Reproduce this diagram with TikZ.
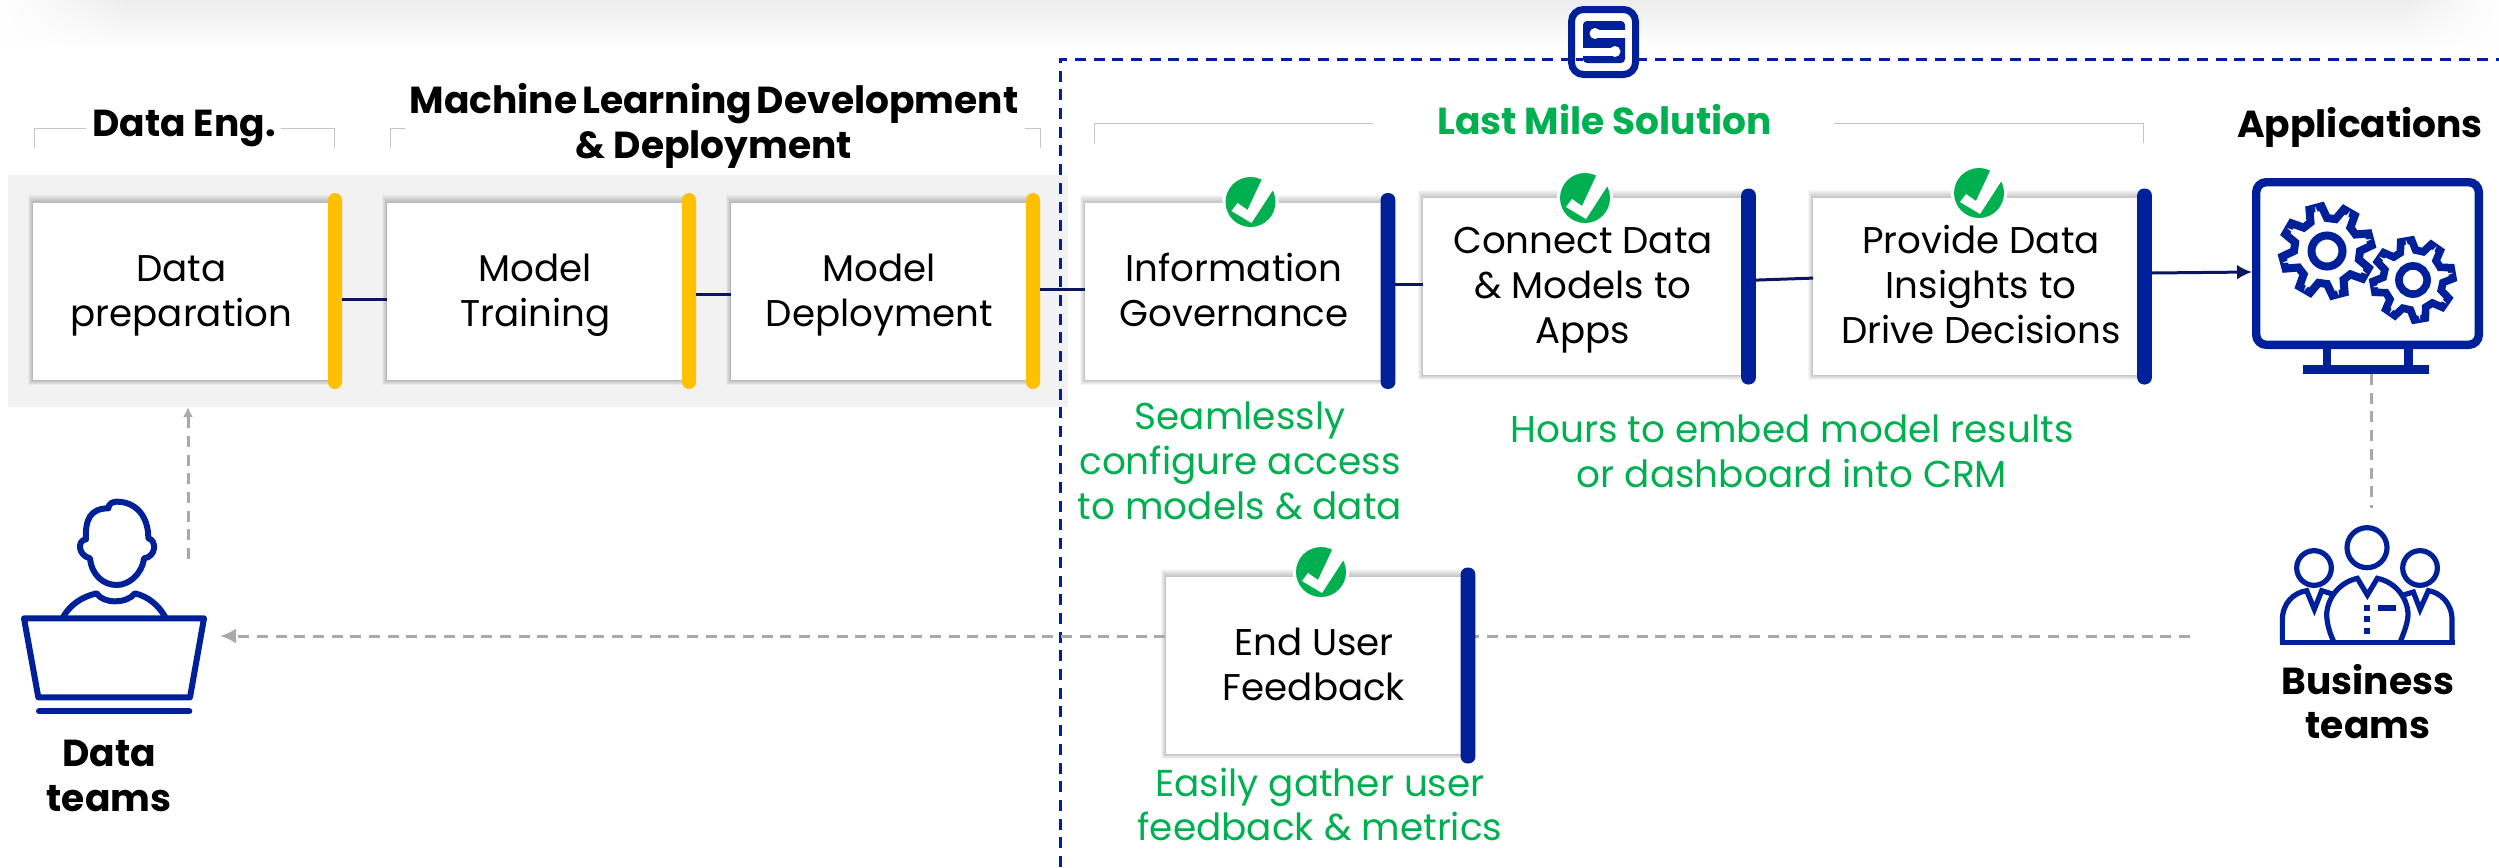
\documentclass[tikz,border=0pt]{standalone}
\usepackage{fontspec}
\setmainfont{Poppins}
\newfontfamily\tightpop[WordSpace=0.6]{Poppins}
\usetikzlibrary{arrows.meta,calc,fadings}
\definecolor{navyb}{HTML}{00209A}
\definecolor{conn}{HTML}{0B1660}
\definecolor{gold}{HTML}{FFC000}
\definecolor{grn}{HTML}{00B050}
\definecolor{band}{HTML}{F2F2F2}
\definecolor{dashg}{HTML}{A9A9A9}
\definecolor{brk}{HTML}{C4C4C4}
\newcommand{\cardtop}{\rule{0pt}{19pt}}
\tikzset{
  px/.style={x=0.5pt,y=-0.5pt},
  cardbox/.style={draw=none,fill=white,inner sep=0pt,outer sep=0pt,align=center,text=black,font=\fontsize{18.6}{22.5}\selectfont,execute at end node=\strut},
  goldbar/.style={fill=gold,inner sep=0pt,outer sep=0pt,rounded corners=3.5pt,minimum width=7pt,minimum height=98pt},
  bluebar/.style={fill=navyb,inner sep=0pt,outer sep=0pt,rounded corners=3.5pt,minimum width=7.4pt,minimum height=98pt},
  titlelab/.style={inner sep=0pt,align=center,text=black,font=\fontsize{18.8}{22.3}\selectfont\bfseries},
  greenlab/.style={inner sep=0pt,align=center,text=grn,font=\fontsize{18.7}{22.4}\selectfont},
  flowline/.style={draw=conn,line width=1.5pt},
  graydash/.style={draw=dashg,line width=1.5pt,dash pattern=on 5.5pt off 3.85pt},
  bracket/.style={draw=brk,line width=0.5pt},
  iconline/.style={draw=navyb,line width=3pt,line join=round,line cap=round},
  iconthin/.style={draw=navyb,line width=2.6pt,line join=miter},
}
% soft shadow behind a card: left, top, right, bottom in px
\newcommand{\cardshadow}[4]{%
  \foreach \i in {1,...,8}{
    \fill[black,opacity=0.03] ({#1-\i*0.6},{#2-\i*1.0}) rectangle ({#3},{#4+\i*0.6});
  }}
\newcommand{\okmark}[3]{% name x y
  \fill[white] (#2,#3) circle (28);
  \node[circle,fill=grn,minimum size=25pt,inner sep=0pt] (#1) at (#2,#3) {};
  \fill[white] ($(#2,#3)+(-19,9)$) -- ++(6,-8) -- ++(10,7) -- ++(15,-32) -- ++(13,8) -- ++(-24,37) -- cycle;
}
\newcommand{\gearshape}[6]{% x y tip root offset lw
  \begin{scope}[shift={(#1,#2)}]
    \draw[navyb,fill=white,line width=#6*0.5pt,line join=miter]
      (#5-16:#4)
      \foreach \a in {0,45,...,315}{
        -- (#5+\a-15:#4) -- (#5+\a-8:#3) -- (#5+\a+8:#3) -- (#5+\a+15:#4)
      } -- cycle;
    \foreach \a in {0,45,...,315}{
      \fill[white] (#5+\a-7:#4-5) -- (#5+\a:#3+1) -- (#5+\a+7:#4-5) -- cycle;
    }
    \draw[navyb,line width=#6*0.5pt] (0,0) circle (#4*0.47);
  \end{scope}}
\begin{document}
\begin{tikzpicture}[px]
\useasboundingbox (0,0) rectangle (2499,867);
% top haze
\shade[top color=black!7,bottom color=white] (0,0) rectangle (2499,50);
\fill[white,path fading=east] (0,0) rectangle (130,50);
\fill[white,path fading=west] (2400,0) rectangle (2499,50);
% band
\fill[band] (8,175) rectangle (1068,407);
% frame
\draw[navyb,line width=1.5pt,dash pattern=on 5.5pt off 3.85pt] (1060,867) -- (1060,59) -- (2499,59);
% brackets
\draw[bracket] (34,148) -- (34,128) -- (86,128);
\draw[bracket] (281,128) -- (334,128) -- (334,148);
\draw[bracket] (390,148) -- (390,128) -- (405,128);
\draw[bracket] (1025,128) -- (1040,128) -- (1040,148);
\draw[bracket] (1094,143) -- (1094,123) -- (1373,123);
\draw[bracket] (1834,123) -- (2143,123) -- (2143,143);
% S logo
\node[draw=navyb,fill=white,line width=3.5pt,rounded corners=6pt,minimum width=32pt,minimum height=32.5pt,inner sep=0pt] (logo) at (1603.5,42) {};
\draw[navyb,line width=1.5pt] (logo.west |- 0,59) ++(8,0) -- ++(7,0);
\fill[navyb,rounded corners=2pt] (1583,21) rectangle (1625,63);
\fill[white] (1595,29.5) rectangle (1626,37.5);
\fill[white] (1595,33.5) circle (5.5);
\fill[white] (1582,47.5) rectangle (1615,55.5);
\fill[white] (1615,51.5) circle (5.5);
% shadows
\cardshadow{33}{203}{330}{380}
\cardshadow{387}{203}{684}{380}
\cardshadow{731}{203}{1028}{380}
\cardshadow{1085}{203}{1383}{380}
\cardshadow{1423}{198}{1743}{375}
\cardshadow{1813}{198}{2139}{375}
\cardshadow{1166}{577}{1462}{754}
% dashed feedback line (behind the card)
\coordinate (bizend) at (2190,636);
\coordinate (datatip) at (220,636);
\coordinate (fbmid) at (1315,636);
\draw[graydash] (bizend) -- (fbmid);
\draw[graydash,-{Latex[length=8pt,width=7.5pt,color=dashg]}] (fbmid) -- (datatip);
% cards
\node[cardbox,minimum width=148.5pt,minimum height=88.5pt] (prep) at (181.5,291.5) {\cardtop Data\\preparation};
\node[cardbox,minimum width=148.5pt,minimum height=88.5pt] (train) at (535.5,291.5) {\cardtop Model\\Training};
\node[cardbox,minimum width=148.5pt,minimum height=88.5pt] (deploy) at (879.5,291.5) {\cardtop Model\\Deployment};
\node[cardbox,minimum width=149pt,minimum height=88.5pt] (gov) at (1234,291.5) {\cardtop Information\\Governance};
\node[cardbox,minimum width=160pt,minimum height=88.5pt] (apps) at (1583,286.5) {\cardtop Connect Data\\\& Models to\\Apps};
\node[cardbox,minimum width=168pt,minimum height=88.5pt] (insight) at (1981,286.5) {\cardtop Provide Data\\Insights to\\Drive Decisions};
\node[cardbox,minimum width=148pt,minimum height=88.5pt] (fb) at (1314,665.5) {\cardtop End User\\Feedback};
% bars
\node[goldbar] (b1) at (335,291) {};
\node[goldbar] (b2) at (689,291) {};
\node[goldbar] (b3) at (1033,291) {};
\node[bluebar] (b4) at (1388,291) {};
\node[bluebar] (b5) at (1748.5,286.5) {};
\node[bluebar] (b6) at (2144.5,286.5) {};
\node[bluebar] (b7) at (1468,665.5) {};
% flow connectors
\draw[flowline] ([yshift=-4pt]b1.east) -- ([yshift=-3.75pt]train.west);
\draw[flowline] ([yshift=-1.5pt]b2.east) -- ([yshift=-1.25pt]deploy.west);
\draw[flowline] ([yshift=1pt]b3.east) -- ([yshift=1.25pt]gov.west);
\draw[flowline] ([yshift=3.5pt]b4.east) -- ([yshift=1.25pt]apps.west);
\draw[flowline] ([yshift=3.2pt]b5.east) -- ([yshift=4.2pt]insight.west);
% checks
\okmark{c1}{1250.5}{202}
\okmark{c2}{1585}{198}
\okmark{c3}{1979}{193}
\okmark{c4}{1321}{572}
% applications monitor
\node[draw=navyb,fill=white,line width=4.2pt,rounded corners=5pt,minimum width=111.3pt,minimum height=81.3pt,inner sep=0pt] (mon) at (2367.5,263.5) {};
\fill[navyb] (2323,347) rectangle (2331,366);
\fill[navyb] (2404,347) rectangle (2412.5,366);
\fill[navyb] (2303,365) rectangle (2429,374);
\draw[flowline,-{Latex[length=7.5pt,width=7.5pt]}] ([yshift=6.75pt]b6.east) -- ([yshift=-4.25pt]mon.west);
\gearshape{2327}{251}{45}{33}{-15}{8}
\gearshape{2413}{280}{40}{30}{-10}{7.6}
% apps to business
\coordinate (monbase) at (2371,374);
\coordinate (bizhead) at (2371,508);
\draw[graydash] (monbase) -- (bizhead);
% data arrow
\coordinate (datastart) at (188,559);
\coordinate (bandbottom) at (188,407);
\draw[graydash,-{Latex[length=5pt,width=5pt,color=dashg]}] (datastart) -- (bandbottom);
% data teams icon
\begin{scope}[shift={(0,400)},x=0.16667pt,y=-0.16667pt]
  \draw[iconline] (325,325) .. controls (325,310) and (340,305) .. (350,305)
     .. controls (405,305) and (445,345) .. (445,415)
     .. controls (470,420) and (470,470) .. (432,475)
     .. controls (425,525) and (385,555) .. (350,555)
     .. controls (310,555) and (275,525) .. (270,475)
     .. controls (232,465) and (232,420) .. (258,418)
     .. controls (255,360) and (270,325) .. (325,325);
  \draw[iconline] (190,650) .. controls (210,615) and (245,590) .. (290,580)
     .. controls (310,612) and (380,612) .. (405,580)
     .. controls (445,590) and (475,615) .. (495,650);
  \draw[iconline] (72,655) -- (612,655) -- (570,892) -- (115,892) -- cycle;
  \draw[iconline] (117,934) -- (568,934);
\end{scope}
% business icon
\begin{scope}[shift={(2200,480)},x=0.16667pt,y=-0.16667pt]
  \draw[iconthin] (501,203) circle (60);
  \draw[iconthin] (342,264) circle (52);
  \draw[iconthin] (660,264) circle (52);
  \draw[iconthin] (402,487) .. controls (385,450) and (380,425) .. (380,400)
     .. controls (385,345) and (425,305) .. (472,295) -- (502,345) -- (532,295)
     .. controls (580,305) and (620,345) .. (624,400)
     .. controls (624,425) and (615,450) .. (600,487);
  \draw[iconthin] (247,487) -- (247,420) .. controls (247,370) and (280,338) .. (320,332)
     -- (343,388) -- (365,332) -- (397,342);
  \draw[iconthin] (756,487) -- (756,420) .. controls (756,370) and (722,338) .. (685,332)
     -- (660,388) -- (640,336) -- (610,345);
  \draw[iconthin] (240,487) -- (764,487);
  \fill[navyb] (492,375) rectangle (510,393);
  \fill[navyb] (492,408) rectangle (510,426);
  \fill[navyb] (492,444) rectangle (510,462);
  \fill[navyb] (534,375) rectangle (588,393);
\end{scope}
% labels
\node[titlelab] (ldataeng) at (184,128) {Data Eng.};
\node[titlelab] (lml) at (714,126) {\tightpop\bfseries Machine Learning Development\\\& Deployment};
\node[titlelab,text=grn] (llast) at (1604.5,120) {Last Mile Solution};
\node[titlelab] (lapps) at (2360,127) {Applications};
\node[titlelab] (ldata) at (109,776) {Data\\teams};
\node[titlelab] (lbiz) at (2368,701.5) {Business\\teams};
\node[greenlab] (g1) at (1240,461) {Seamlessly\\configure access\\to models \& data};
\node[greenlab] (g2) at (1792,451) {Hours to embed model results\\or dashboard into CRM};
\node[greenlab] (g3) at (1320,804.5) {Easily gather user\\feedback \& metrics};
\end{tikzpicture}
\end{document}
